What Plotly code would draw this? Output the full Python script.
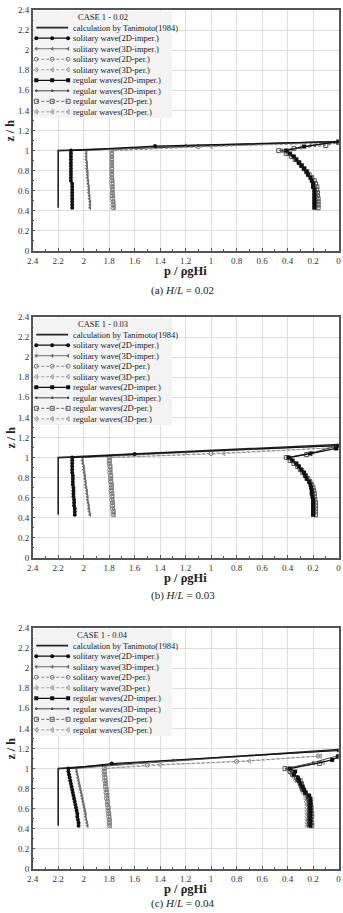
import plotly.graph_objects as go

FONT = "Liberation Serif, Times New Roman, serif"

# ---------------- data ----------------
Z = [0.43, 0.46, 0.49, 0.52, 0.55, 0.58, 0.61, 0.64, 0.67, 0.70,
     0.73, 0.76, 0.79, 0.82, 0.85, 0.88, 0.91, 0.94, 0.97, 1.00]

X_TICKS = [2.4, 2.2, 2.0, 1.8, 1.6, 1.4, 1.2, 1.0, 0.8, 0.6, 0.4, 0.2, 0.0]
X_TICK_TEXT = ["2.4", "2.2", "2", "1.8", "1.6", "1.4", "1.2", "1", "0.8", "0.6", "0.4", "0.2", "0"]
Y_TICKS = [0.0, 0.2, 0.4, 0.6, 0.8, 1.0, 1.2, 1.4, 1.6, 1.8, 2.0, 2.2, 2.4]
Y_TICK_TEXT = ["0", "0.2", "0.4", "0.6", "0.8", "1", "1.2", "1.4", "1.6", "1.8", "2", "2.2", "2.4"]

SERIES_NAMES = ["solitary wave(2D-imper.)", "solitary wave(3D-imper.)",
                "solitary wave(2D-per.)", "solitary wave(3D-per.)",
                "regular waves(2D-imper.)", "regular waves(3D-imper.)",
                "regular waves(2D-per.)", "regular waves(3D-per.)"]
TANIMOTO_NAME = "calculation by Tanimoto(1984)"
CASE_TITLES = ["CASE 1 - 0.02", "CASE 1 - 0.03", "CASE 1 - 0.04"]
CAPTION_HL = ["0.02", "0.03", "0.04"]
CAPTION_TAG = ["(a)", "(b)", "(c)"]

# Tanimoto (1984) calculation
TAN_P_A = [2.2, 2.2, 0.0]
TAN_Z_A = [0.43, 1.0, 1.09]
TAN_P_B = [2.2, 2.2, 0.0]
TAN_Z_B = [0.43, 1.0, 1.13]
TAN_P_C = [2.2, 2.2, 0.0]
TAN_Z_C = [0.43, 1.0, 1.19]

# ---- panel (a) H/L = 0.02 ----
A_SOL2DI = [2.09, 2.09, 2.09, 2.09, 2.09, 2.09, 2.09, 2.09, 2.09, 2.10,
            2.10, 2.10, 2.10, 2.10, 2.10, 2.10, 2.10, 2.10, 2.10, 2.10]
A_SOL2DI_TAIL_P = [1.44, 0.0]
A_SOL2DI_TAIL_Z = [1.045, 1.09]
A_SOL3DI = [1.95, 1.95, 1.95, 1.955, 1.955, 1.96, 1.96, 1.96, 1.965, 1.965,
            1.97, 1.97, 1.97, 1.975, 1.975, 1.975, 1.98, 1.98, 1.98, 1.98]
A_SOL3DI_TAIL_P = [1.2, 0.0]
A_SOL3DI_TAIL_Z = [1.05, 1.09]
A_SOL2DP = [1.77, 1.77, 1.77, 1.775, 1.775, 1.775, 1.775, 1.775, 1.78, 1.78,
            1.78, 1.78, 1.78, 1.78, 1.78, 1.78, 1.78, 1.78, 1.78, 1.78]
A_SOL2DP_TAIL_P = [1.1, 0.0]
A_SOL2DP_TAIL_Z = [1.04, 1.08]
A_SOL3DP = [1.76, 1.76, 1.765, 1.765, 1.765, 1.77, 1.77, 1.77, 1.77, 1.77,
            1.775, 1.775, 1.775, 1.775, 1.775, 1.775, 1.775, 1.775, 1.775, 1.775]
A_SOL3DP_TAIL_P = [1.0, 0.0]
A_SOL3DP_TAIL_Z = [1.04, 1.08]
A_REG2DI = [0.19, 0.19, 0.19, 0.19, 0.19, 0.19, 0.19, 0.20, 0.20, 0.21,
            0.22, 0.24, 0.25, 0.27, 0.29, 0.31, 0.33, 0.35, 0.38, 0.41]
A_REG2DI_TAIL_P = [0.27, 0.0]
A_REG2DI_TAIL_Z = [1.04, 1.09]
A_REG3DI = [0.18, 0.18, 0.18, 0.18, 0.18, 0.185, 0.19, 0.19, 0.20, 0.21,
            0.22, 0.235, 0.25, 0.27, 0.29, 0.31, 0.33, 0.36, 0.39, 0.44]
A_REG3DI_TAIL_P = [0.22, 0.0]
A_REG3DI_TAIL_Z = [1.05, 1.09]
A_REG2DP = [0.16, 0.16, 0.16, 0.16, 0.165, 0.165, 0.17, 0.17, 0.18, 0.19,
            0.21, 0.23, 0.25, 0.27, 0.29, 0.31, 0.34, 0.37, 0.41, 0.47]
A_REG2DP_TAIL_P = [0.35, 0.1, 0.0]
A_REG2DP_TAIL_Z = [1.02, 1.05, 1.08]
A_REG3DP = [0.17, 0.17, 0.17, 0.17, 0.17, 0.175, 0.18, 0.18, 0.19, 0.20,
            0.215, 0.235, 0.25, 0.27, 0.29, 0.31, 0.335, 0.36, 0.40, 0.45]
A_REG3DP_TAIL_P = [0.3, 0.0]
A_REG3DP_TAIL_Z = [1.03, 1.08]

# ---- panel (b) H/L = 0.03 ----
B_SOL2DI = [2.07, 2.07, 2.07, 2.075, 2.075, 2.075, 2.08, 2.08, 2.08, 2.08,
            2.085, 2.085, 2.085, 2.085, 2.09, 2.09, 2.09, 2.09, 2.09, 2.09]
B_SOL2DI_TAIL_P = [1.6, 0.0]
B_SOL2DI_TAIL_Z = [1.035, 1.12]
B_SOL3DI = [1.95, 1.955, 1.96, 1.96, 1.965, 1.97, 1.97, 1.975, 1.975, 1.98,
            1.985, 1.985, 1.99, 1.99, 1.995, 2.0, 2.0, 2.005, 2.01, 2.01]
B_SOL3DI_TAIL_P = [1.2, 0.0]
B_SOL3DI_TAIL_Z = [1.05, 1.12]
B_SOL2DP = [1.77, 1.77, 1.775, 1.775, 1.775, 1.78, 1.78, 1.78, 1.785, 1.785,
            1.785, 1.79, 1.79, 1.79, 1.795, 1.795, 1.795, 1.80, 1.80, 1.80]
B_SOL2DP_TAIL_P = [1.0, 0.0]
B_SOL2DP_TAIL_Z = [1.04, 1.10]
B_SOL3DP = [1.76, 1.76, 1.765, 1.765, 1.765, 1.77, 1.77, 1.77, 1.775, 1.775,
            1.775, 1.78, 1.78, 1.78, 1.785, 1.785, 1.785, 1.79, 1.79, 1.79]
B_SOL3DP_TAIL_P = [0.9, 0.0]
B_SOL3DP_TAIL_Z = [1.04, 1.10]
B_REG2DI = [0.20, 0.20, 0.20, 0.20, 0.20, 0.20, 0.205, 0.21, 0.21, 0.215,
            0.22, 0.23, 0.25, 0.26, 0.27, 0.29, 0.31, 0.33, 0.36, 0.39]
B_REG2DI_TAIL_P = [0.22, 0.02, 0.0]
B_REG2DI_TAIL_Z = [1.04, 1.09, 1.11]
B_REG3DI = [0.19, 0.19, 0.19, 0.19, 0.19, 0.195, 0.20, 0.20, 0.205, 0.21,
            0.22, 0.235, 0.25, 0.265, 0.28, 0.30, 0.32, 0.34, 0.37, 0.40]
B_REG3DI_TAIL_P = [0.2, 0.0]
B_REG3DI_TAIL_Z = [1.05, 1.12]
B_REG2DP = [0.18, 0.18, 0.18, 0.18, 0.18, 0.185, 0.19, 0.19, 0.195, 0.20,
            0.21, 0.225, 0.24, 0.26, 0.28, 0.30, 0.32, 0.35, 0.38, 0.41]
B_REG2DP_TAIL_P = [0.25, 0.0]
B_REG2DP_TAIL_Z = [1.03, 1.10]
B_REG3DP = [0.19, 0.19, 0.19, 0.19, 0.19, 0.19, 0.195, 0.20, 0.20, 0.21,
            0.215, 0.23, 0.245, 0.26, 0.275, 0.295, 0.315, 0.34, 0.37, 0.40]
B_REG3DP_TAIL_P = [0.22, 0.0]
B_REG3DP_TAIL_Z = [1.04, 1.10]

# ---- panel (c) H/L = 0.04 ----
C_SOL2DI = [2.04, 2.04, 2.045, 2.05, 2.05, 2.055, 2.06, 2.065, 2.07, 2.075,
            2.08, 2.085, 2.09, 2.095, 2.10, 2.105, 2.11, 2.115, 2.12, 2.12]
C_SOL2DI_TAIL_P = [1.78, 0.0]
C_SOL2DI_TAIL_Z = [1.05, 1.18]
C_SOL3DI = [1.97, 1.975, 1.98, 1.985, 1.985, 1.99, 1.995, 2.0, 2.005, 2.01,
            2.015, 2.02, 2.025, 2.03, 2.035, 2.04, 2.045, 2.05, 2.055, 2.06]
C_SOL3DI_TAIL_P = [1.3, 0.0]
C_SOL3DI_TAIL_Z = [1.08, 1.18]
C_SOL2DP = [1.80, 1.80, 1.80, 1.805, 1.805, 1.81, 1.81, 1.815, 1.815, 1.82,
            1.82, 1.825, 1.825, 1.83, 1.83, 1.835, 1.835, 1.84, 1.84, 1.84]
C_SOL2DP_TAIL_P = [1.5, 0.8, 0.16]
C_SOL2DP_TAIL_Z = [1.035, 1.07, 1.125]
C_SOL3DP = [1.79, 1.79, 1.79, 1.795, 1.795, 1.80, 1.80, 1.805, 1.805, 1.81,
            1.81, 1.815, 1.815, 1.82, 1.82, 1.825, 1.825, 1.83, 1.83, 1.83]
C_SOL3DP_TAIL_P = [1.4, 0.7, 0.14]
C_SOL3DP_TAIL_Z = [1.035, 1.075, 1.125]
C_REG2DI = [0.22, 0.22, 0.22, 0.22, 0.22, 0.22, 0.22, 0.22, 0.22, 0.22,
            0.23, 0.26, 0.27, 0.28, 0.30, 0.31, 0.32, 0.35, 0.34, 0.38]
C_REG2DI_TAIL_P = [0.05, 0.0]
C_REG2DI_TAIL_Z = [1.085, 1.12]
C_REG3DI = [0.24, 0.24, 0.24, 0.24, 0.235, 0.235, 0.235, 0.24, 0.24, 0.245,
            0.25, 0.27, 0.29, 0.30, 0.29, 0.33, 0.31, 0.36, 0.37, 0.41]
C_REG3DI_TAIL_P = [0.2, 0.0]
C_REG3DI_TAIL_Z = [1.06, 1.13]
C_REG2DP = [0.21, 0.21, 0.215, 0.21, 0.21, 0.215, 0.215, 0.22, 0.225, 0.23,
            0.24, 0.26, 0.28, 0.29, 0.29, 0.30, 0.33, 0.36, 0.38, 0.42]
C_REG2DP_TAIL_P = [0.15, 0.0]
C_REG2DP_TAIL_Z = [1.05, 1.12]
C_REG3DP = [0.25, 0.25, 0.25, 0.25, 0.25, 0.25, 0.25, 0.25, 0.255, 0.26,
            0.265, 0.28, 0.29, 0.30, 0.31, 0.34, 0.35, 0.37, 0.39, 0.40]
C_REG3DP_TAIL_P = [0.12, 0.0]
C_REG3DP_TAIL_Z = [1.06, 1.11]

PANELS = [
    dict(tan=(TAN_P_A, TAN_Z_A), series=[
        (A_SOL2DI, A_SOL2DI_TAIL_P, A_SOL2DI_TAIL_Z), (A_SOL3DI, A_SOL3DI_TAIL_P, A_SOL3DI_TAIL_Z),
        (A_SOL2DP, A_SOL2DP_TAIL_P, A_SOL2DP_TAIL_Z), (A_SOL3DP, A_SOL3DP_TAIL_P, A_SOL3DP_TAIL_Z),
        (A_REG2DI, A_REG2DI_TAIL_P, A_REG2DI_TAIL_Z), (A_REG3DI, A_REG3DI_TAIL_P, A_REG3DI_TAIL_Z),
        (A_REG2DP, A_REG2DP_TAIL_P, A_REG2DP_TAIL_Z), (A_REG3DP, A_REG3DP_TAIL_P, A_REG3DP_TAIL_Z)]),
    dict(tan=(TAN_P_B, TAN_Z_B), series=[
        (B_SOL2DI, B_SOL2DI_TAIL_P, B_SOL2DI_TAIL_Z), (B_SOL3DI, B_SOL3DI_TAIL_P, B_SOL3DI_TAIL_Z),
        (B_SOL2DP, B_SOL2DP_TAIL_P, B_SOL2DP_TAIL_Z), (B_SOL3DP, B_SOL3DP_TAIL_P, B_SOL3DP_TAIL_Z),
        (B_REG2DI, B_REG2DI_TAIL_P, B_REG2DI_TAIL_Z), (B_REG3DI, B_REG3DI_TAIL_P, B_REG3DI_TAIL_Z),
        (B_REG2DP, B_REG2DP_TAIL_P, B_REG2DP_TAIL_Z), (B_REG3DP, B_REG3DP_TAIL_P, B_REG3DP_TAIL_Z)]),
    dict(tan=(TAN_P_C, TAN_Z_C), series=[
        (C_SOL2DI, C_SOL2DI_TAIL_P, C_SOL2DI_TAIL_Z), (C_SOL3DI, C_SOL3DI_TAIL_P, C_SOL3DI_TAIL_Z),
        (C_SOL2DP, C_SOL2DP_TAIL_P, C_SOL2DP_TAIL_Z), (C_SOL3DP, C_SOL3DP_TAIL_P, C_SOL3DP_TAIL_Z),
        (C_REG2DI, C_REG2DI_TAIL_P, C_REG2DI_TAIL_Z), (C_REG3DI, C_REG3DI_TAIL_P, C_REG3DI_TAIL_Z),
        (C_REG2DP, C_REG2DP_TAIL_P, C_REG2DP_TAIL_Z), (C_REG3DP, C_REG3DP_TAIL_P, C_REG3DP_TAIL_Z)]),
]

# ---------------- styles ----------------
TAN_STYLE = dict(line=dict(color="#262626", width=1.6))
STYLES = [
    dict(line=dict(color="#111111", width=1.2, dash="solid"),
         marker=dict(symbol="circle", size=4, color="#111111")),
    dict(line=dict(color="#6e6e6e", width=1.0, dash="solid"),
         marker=dict(symbol="triangle-left", size=4, color="#6e6e6e")),
    dict(line=dict(color="#8a8a8a", width=1.0, dash="3px,2px"),
         marker=dict(symbol="circle-open", size=4, color="#7a7a7a", line=dict(width=1))),
    dict(line=dict(color="#a0a0a0", width=1.0, dash="3px,2px"),
         marker=dict(symbol="triangle-left-open", size=4, color="#9a9a9a", line=dict(width=1))),
    dict(line=dict(color="#111111", width=1.2, dash="solid"),
         marker=dict(symbol="square", size=4, color="#111111")),
    dict(line=dict(color="#444444", width=1.0, dash="solid"),
         marker=dict(symbol="circle", size=2.5, color="#444444")),
    dict(line=dict(color="#6a6a6a", width=1.0, dash="3px,2px"),
         marker=dict(symbol="square-open", size=4, color="#5a5a5a", line=dict(width=1))),
    dict(line=dict(color="#9a9a9a", width=1.0, dash="3px,2px"),
         marker=dict(symbol="triangle-left-open", size=4, color="#999999", line=dict(width=1))),
]
DRAW_ORDER = [3, 2, 7, 6, 1, 5, 0, 4]

# ---------------- layout geometry (pixels) ----------------
W, H = 343, 913
X_LEFT, X_RIGHT = 32.7, 338.5
PANEL_TOPS = [10, 317, 628]
PANEL_H = 241
XTITLE_Y = [271, 577.5, 889]
CAPTION_Y = [290.5, 595.5, 903]
LEG_RIGHT = 172
LEG_H = 108


def fx(px):
    return px / W


def fy(px):
    return 1 - px / H


fig = go.Figure()
annotations = []
layout_axes = {}

for i, panel in enumerate(PANELS):
    sfx = "" if i == 0 else str(i + 1)
    xa, ya = "x" + sfx, "y" + sfx
    top = PANEL_TOPS[i]
    bottom = top + PANEL_H

    tp, tz = panel["tan"]
    fig.add_trace(go.Scatter(x=tp, y=tz, mode="lines", xaxis=xa, yaxis=ya,
                             showlegend=False, hoverinfo="skip", **TAN_STYLE))
    for k in DRAW_ORDER:
        px_vals, tail_p, tail_z = panel["series"][k]
        fig.add_trace(go.Scatter(x=list(px_vals) + list(tail_p), y=list(Z) + list(tail_z),
                                 mode="lines+markers", xaxis=xa, yaxis=ya,
                                 showlegend=False, name=SERIES_NAMES[k], **STYLES[k]))

    axis_common = dict(
        showgrid=True, gridcolor="#dedede", gridwidth=1,
        showline=True, linecolor="#555555", linewidth=1.5, mirror=True,
        ticks="inside", ticklen=3, tickwidth=1, tickcolor="#555555",
        minor=dict(ticks="inside", ticklen=2, tickcolor="#555555", dtick=0.1, tick0=0, showgrid=False),
        tickfont=dict(family=FONT, size=9, color="#333333"),
        zeroline=False, automargin=False, fixedrange=True,
    )
    layout_axes["xaxis" + sfx] = dict(
        domain=[fx(X_LEFT), fx(X_RIGHT)], range=[2.4, 0], anchor=ya,
        tickmode="array", tickvals=X_TICKS, ticktext=X_TICK_TEXT, **axis_common)
    layout_axes["yaxis" + sfx] = dict(
        domain=[fy(bottom), fy(top)], range=[0, 2.4], anchor=xa,
        tickmode="array", tickvals=Y_TICKS, ticktext=Y_TICK_TEXT, **axis_common)

    # axis titles and caption
    annotations.append(dict(text="<b>z / h</b>", x=fx(10), y=fy(top + PANEL_H / 2),
                            xref="paper", yref="paper", showarrow=False, textangle=-90,
                            xanchor="center", yanchor="middle",
                            font=dict(family=FONT, size=12, color="#222222")))
    annotations.append(dict(text="<b>p / \u03c1gHi</b>", x=fx((X_LEFT + X_RIGHT) / 2), y=fy(XTITLE_Y[i]),
                            xref="paper", yref="paper", showarrow=False,
                            xanchor="center", yanchor="middle",
                            font=dict(family=FONT, size=12.5, color="#222222")))
    annotations.append(dict(text=CAPTION_TAG[i] + " <i>H</i>/<i>L</i> = " + CAPTION_HL[i],
                            x=fx((X_LEFT + X_RIGHT) / 2 - 3), y=fy(CAPTION_Y[i]),
                            xref="paper", yref="paper", showarrow=False,
                            xanchor="center", yanchor="middle",
                            font=dict(family=FONT, size=11, color="#222222")))

    # custom compact legend on its own hidden axes
    lsfx = str(i + 4)
    lxa, lya = "x" + lsfx, "y" + lsfx
    layout_axes["xaxis" + lsfx] = dict(domain=[fx(X_LEFT + 0.8), fx(LEG_RIGHT)], range=[0, 1],
                                       visible=False, anchor=lya, fixedrange=True)
    layout_axes["yaxis" + lsfx] = dict(domain=[fy(top + LEG_H), fy(top + 0.8)], range=[0, 1],
                                       visible=False, anchor=lxa, fixedrange=True)
    fig.add_trace(go.Scatter(x=[0, 1, 1, 0, 0], y=[0, 0, 1, 1, 0], mode="lines", fill="toself",
                             fillcolor="#f3f3f3", line=dict(width=0, color="#f3f3f3"),
                             xaxis=lxa, yaxis=lya, showlegend=False, hoverinfo="skip"))

    def row_y(j):
        return 1 - (17 + 10.6 * j) / LEG_H

    annotations.append(dict(text=CASE_TITLES[i], x=0.5, y=1 - 6.5 / LEG_H, xref=lxa, yref=lya,
                            showarrow=False, xanchor="center", yanchor="middle",
                            font=dict(family=FONT, size=8.5, color="#222222")))
    labels = [TANIMOTO_NAME] + SERIES_NAMES
    for j, label in enumerate(labels):
        yy = row_y(j)
        if j == 0:
            fig.add_trace(go.Scatter(x=[0.02, 0.25], y=[yy, yy], mode="lines", xaxis=lxa, yaxis=lya,
                                     showlegend=False, hoverinfo="skip", **TAN_STYLE))
        else:
            fig.add_trace(go.Scatter(x=[0.02, 0.135, 0.25], y=[yy, yy, yy], mode="lines+markers",
                                     xaxis=lxa, yaxis=lya, showlegend=False, hoverinfo="skip",
                                     **STYLES[j - 1]))
        annotations.append(dict(text=label, x=0.27, y=yy, xref=lxa, yref=lya, showarrow=False,
                                xanchor="left", yanchor="middle",
                                font=dict(family=FONT, size=8.5, color="#222222")))

fig.update_layout(
    width=W, height=H, margin=dict(l=0, r=0, t=0, b=0),
    template="none", paper_bgcolor="white", plot_bgcolor="white",
    showlegend=False, annotations=annotations, **layout_axes,
)

fig.write_html("out.html", config={"displayModeBar": False})
